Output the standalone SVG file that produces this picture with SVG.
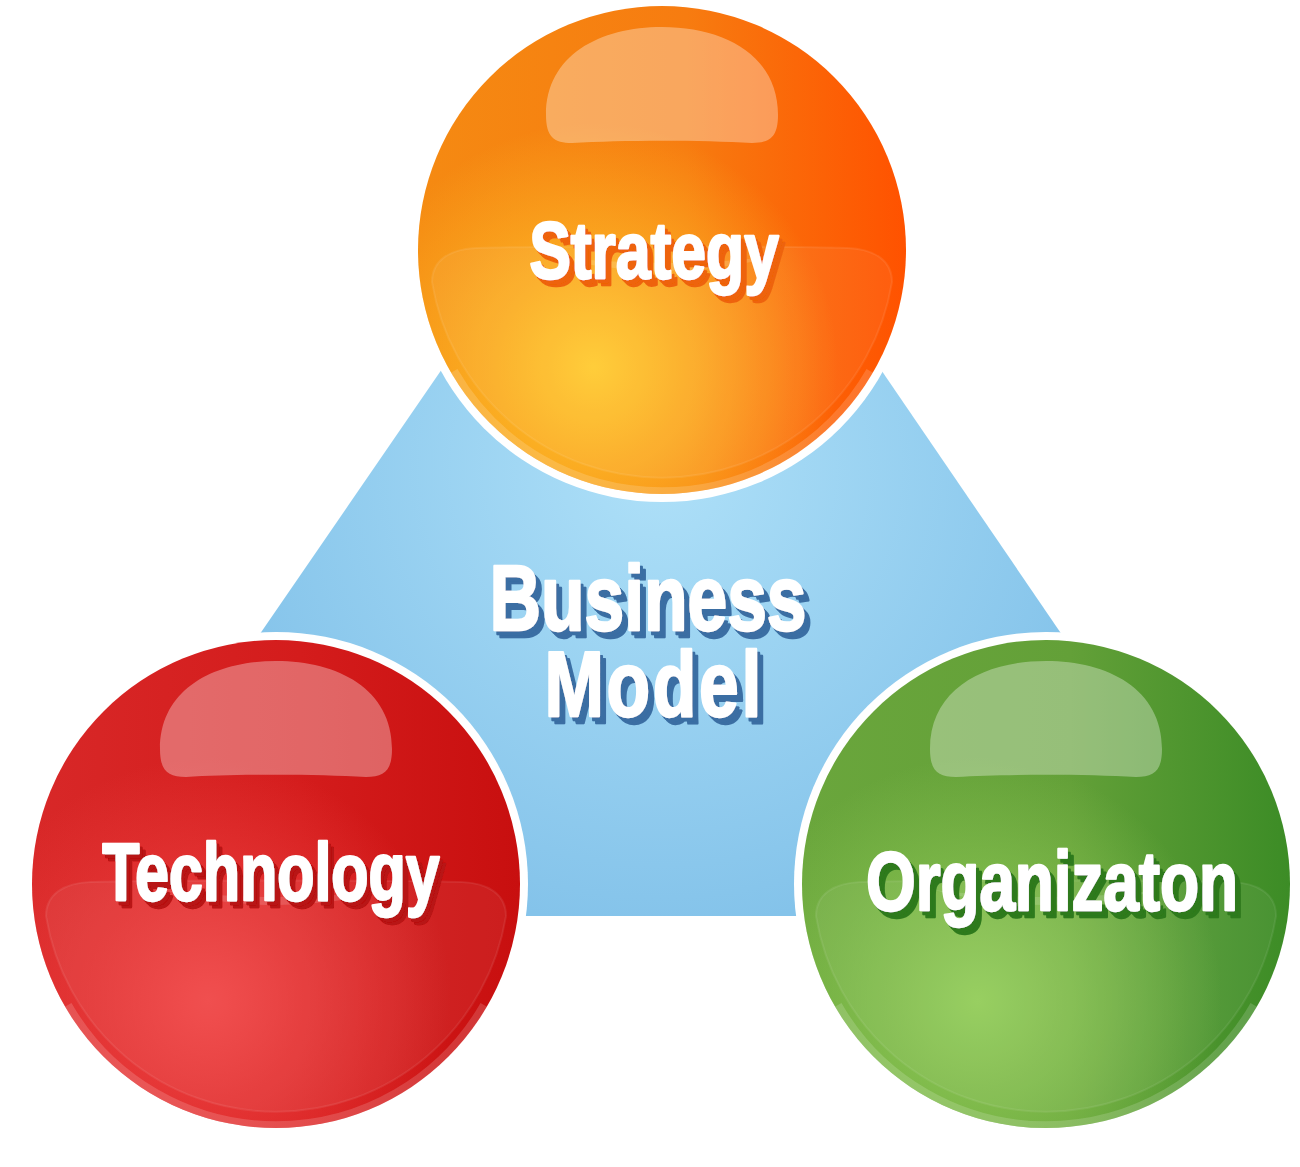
<svg xmlns="http://www.w3.org/2000/svg" width="1300" height="1167" viewBox="0 0 1300 1167">
  <defs>
    <style>
      .label { font-family: "Liberation Sans", Arial, sans-serif; font-weight: bold; fill: #ffffff; stroke: #ffffff; stroke-width: 2.4; stroke-linejoin: round; text-anchor: middle; }
      .ring { fill: #ffffff; }
      .dome { fill: #ffffff; fill-opacity: 0.33; }
      .lower { fill: #ffffff; fill-opacity: 0.06; stroke: #ffffff; stroke-opacity: 0.08; stroke-width: 2; }
      .smile { fill: #ffffff; fill-opacity: 0.14; }
      .rim { fill: none; stroke: #ffffff; stroke-opacity: 0.16; stroke-width: 8; }
    </style>
    <radialGradient id="triGrad" gradientUnits="userSpaceOnUse" cx="660" cy="470" r="460">
      <stop offset="0" stop-color="#aee0f8"/>
      <stop offset="1" stop-color="#84c3ea"/>
    </radialGradient>

    <linearGradient id="orangeBase" x1="0" y1="0" x2="1" y2="0">
      <stop offset="0" stop-color="#f58a12"/>
      <stop offset="0.55" stop-color="#f77c10"/>
      <stop offset="1" stop-color="#ff5200"/>
    </linearGradient>
    <radialGradient id="orangeGlow" cx="0.36" cy="0.74" r="0.5">
      <stop offset="0" stop-color="#ffca2e" stop-opacity="1"/>
      <stop offset="1" stop-color="#ffca2e" stop-opacity="0"/>
    </radialGradient>

    <linearGradient id="redBase" x1="0" y1="0" x2="1" y2="0">
      <stop offset="0" stop-color="#d82828"/>
      <stop offset="0.55" stop-color="#d41c1c"/>
      <stop offset="1" stop-color="#c80f0f"/>
    </linearGradient>
    <radialGradient id="redGlow" cx="0.36" cy="0.74" r="0.5">
      <stop offset="0" stop-color="#f04444" stop-opacity="1"/>
      <stop offset="1" stop-color="#f04444" stop-opacity="0"/>
    </radialGradient>

    <linearGradient id="greenBase" x1="0" y1="0" x2="1" y2="0">
      <stop offset="0" stop-color="#6aa63c"/>
      <stop offset="0.55" stop-color="#63a038"/>
      <stop offset="1" stop-color="#3c8c26"/>
    </linearGradient>
    <radialGradient id="greenGlow" cx="0.36" cy="0.74" r="0.5">
      <stop offset="0" stop-color="#92cc58" stop-opacity="1"/>
      <stop offset="1" stop-color="#92cc58" stop-opacity="0"/>
    </radialGradient>

    <filter id="shBlue" x="-15%" y="-30%" width="140%" height="170%">
      <feFlood flood-color="#3a6ea3"/>
      <feComposite in2="SourceAlpha" operator="in" result="c"/>
      <feOffset in="c" dx="4" dy="3.5" result="o1"/>
      <feOffset in="c" dx="8" dy="7" result="o2"/>
      <feMerge><feMergeNode in="o2"/><feMergeNode in="o1"/><feMergeNode in="SourceGraphic"/></feMerge>
    </filter>
    <filter id="shOrange" x="-15%" y="-50%" width="140%" height="200%">
      <feFlood flood-color="#ee6410"/>
      <feComposite in2="SourceAlpha" operator="in" result="c"/>
      <feOffset in="c" dx="4" dy="3.5" result="o1"/>
      <feOffset in="c" dx="8" dy="7" result="o2"/>
      <feMerge><feMergeNode in="o2"/><feMergeNode in="o1"/><feMergeNode in="SourceGraphic"/></feMerge>
    </filter>
    <filter id="shRed" x="-15%" y="-50%" width="140%" height="200%">
      <feFlood flood-color="#b81212"/>
      <feComposite in2="SourceAlpha" operator="in" result="c"/>
      <feOffset in="c" dx="4" dy="3.5" result="o1"/>
      <feOffset in="c" dx="8" dy="7" result="o2"/>
      <feMerge><feMergeNode in="o2"/><feMergeNode in="o1"/><feMergeNode in="SourceGraphic"/></feMerge>
    </filter>
    <filter id="shGreen" x="-15%" y="-50%" width="140%" height="200%">
      <feFlood flood-color="#2f7a1f"/>
      <feComposite in2="SourceAlpha" operator="in" result="c"/>
      <feOffset in="c" dx="4" dy="3.5" result="o1"/>
      <feOffset in="c" dx="8" dy="7" result="o2"/>
      <feMerge><feMergeNode in="o2"/><feMergeNode in="o1"/><feMergeNode in="SourceGraphic"/></feMerge>
    </filter>

    <path id="domeShape" d="M -116,-135 C -116,-195 -62,-223 0,-223 C 62,-223 116,-195 116,-135 C 116,-113 108,-107 90,-107 C 40,-110 -40,-110 -90,-107 C -108,-107 -116,-113 -116,-135 Z"/>
    <path id="lowerShape" d="M -230,32 C -230,10 -212,-1 -185,-2 C -120,-4 120,-4 185,-2 C 212,-1 230,10 230,32 A 233 233 0 0 1 -230,32 Z"/>
    <path id="smileShape" d="M -112,6 Q 0,36 115,6 Q 0,20 -112,6 Z"/>
    <path id="rimShape" d="M 208,121 A 240 240 0 0 1 -208,121"/>
  </defs>

  <rect x="0" y="0" width="1300" height="1167" fill="#ffffff"/>

  <g id="business-model">
    <polygon points="662,49 66,916 1254,916" fill="url(#triGrad)"/>
    <text class="label" font-size="92" transform="translate(648,0) scale(0.775,1)" filter="url(#shBlue)"><tspan x="0" y="630">Business</tspan><tspan x="8" y="716" letter-spacing="3.5">Model</tspan></text>
  </g>

  <g id="connectors"></g>

  <g id="strategy" transform="translate(662,250)">
    <circle class="ring" r="252"/>
    <circle r="244" fill="url(#orangeBase)"/>
    <circle r="244" fill="url(#orangeGlow)"/>
    <use href="#lowerShape" class="lower"/>
    <use href="#smileShape" class="smile"/>
    <use href="#rimShape" class="rim"/>
    <use href="#domeShape" class="dome"/>
    <text class="label" x="0" y="0" font-size="80" transform="translate(-8,28) scale(0.78,1)" filter="url(#shOrange)">Strategy</text>
  </g>

  <g id="technology" transform="translate(276,884)">
    <circle class="ring" r="252"/>
    <circle r="244" fill="url(#redBase)"/>
    <circle r="244" fill="url(#redGlow)"/>
    <use href="#lowerShape" class="lower"/>
    <use href="#smileShape" class="smile"/>
    <use href="#rimShape" class="rim"/>
    <use href="#domeShape" class="dome"/>
    <text class="label" x="0" y="0" font-size="82" transform="translate(-5,16) scale(0.743,1)" filter="url(#shRed)">Technology</text>
  </g>

  <g id="organization" transform="translate(1046,884)">
    <circle class="ring" r="252"/>
    <circle r="244" fill="url(#greenBase)"/>
    <circle r="244" fill="url(#greenGlow)"/>
    <use href="#lowerShape" class="lower"/>
    <use href="#smileShape" class="smile"/>
    <use href="#rimShape" class="rim"/>
    <use href="#domeShape" class="dome"/>
    <text class="label" x="0" y="0" font-size="84" transform="translate(6,26) scale(0.759,1)" filter="url(#shGreen)">Organizaton</text>
  </g>
</svg>
